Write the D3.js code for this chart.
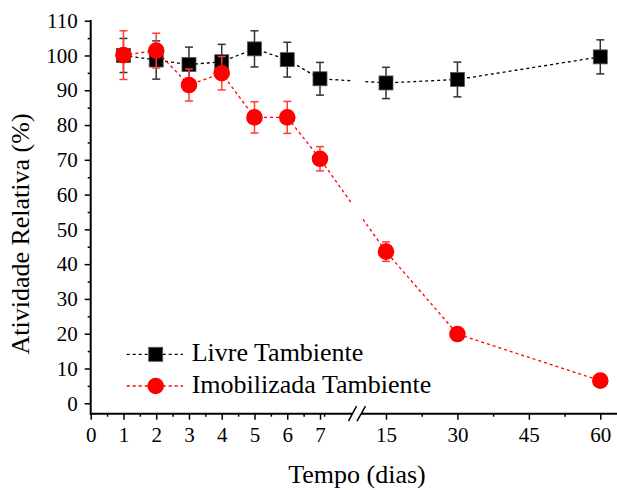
<!DOCTYPE html>
<html>
<head>
<meta charset="utf-8">
<script src="https://cdn.jsdelivr.net/npm/d3@7"></script>
<style>
  html, body { margin: 0; padding: 0; background: #fff; }
  svg { display: block; }
  text { font-family: "Liberation Serif", "Times New Roman", serif; fill: #000; }
</style>
</head>
<body>
<svg id="chart" width="617" height="490"></svg>
<script>
// ---- Data ----
const days = [1, 2, 3, 4, 5, 6, 7, 15, 30, 60];
const livre = [100.0, 98.7, 97.4, 98.2, 101.9, 98.8, 93.3, 92.1, 93.1, 99.6];
const livreErr = [4.9, 5.5, 5.0, 5.0, 5.2, 5.0, 4.7, 4.5, 5.0, 4.9];
const imob = [100.1, 101.4, 91.5, 94.9, 82.2, 82.2, 70.3, 43.6, 19.9, 6.5];
const imobErr = [7.0, 5.0, 4.6, 4.8, 4.5, 4.6, 3.5, 2.8, 0, 0];
const xTicksMajor1 = [0, 1, 2, 3, 4, 5, 6, 7];
const xTicksMajor2 = [15, 30, 45, 60];
const xTicksMinor = [0.5, 1.5, 2.5, 3.5, 4.5, 5.5, 6.5, 7.5, 22.5, 37.5, 52.5];
const yTicksMajor = [0, 10, 20, 30, 40, 50, 60, 70, 80, 90, 100, 110];
const yTicksMinor = [5, 15, 25, 35, 45, 55, 65, 75, 85, 95, 105];
const seriesNames = ["Livre Tambiente", "Imobilizada Tambiente"];

// ---- Scales ----
const x = d3.scaleLinear().domain([0, 7, 15, 63.3]).range([90.7, 320, 386, 616]);
const y = d3.scaleLinear().domain([-3, 110]).range([413.7, 20.7]);
const xBreak = [351, 363];

const svg = d3.select("#chart");

// clip for break gap
const defs = svg.append("defs");
const cp = defs.append("clipPath").attr("id", "gapclip");
cp.append("rect").attr("x", 0).attr("y", 0).attr("width", xBreak[0]).attr("height", 490);
cp.append("rect").attr("x", xBreak[1]).attr("y", 0).attr("width", 617 - xBreak[1]).attr("height", 490);

// ---- Axes ----
const fontTick = 21;
const xAxisMajor = d3.axisBottom(x).tickValues(xTicksMajor1.concat(xTicksMajor2))
  .tickSize(6).tickPadding(7.5).tickFormat(d3.format("d"));
const gx = svg.append("g").attr("transform", `translate(0,${y(-3)})`).call(xAxisMajor);
gx.select(".domain").remove();
gx.selectAll("line").attr("stroke", "#000").attr("stroke-width", 1.5);
gx.selectAll("text").style("font-size", fontTick + "px").style("font-family", "Liberation Serif");

const xAxisMinor = d3.axisBottom(x).tickValues(xTicksMinor).tickSize(3).tickFormat("");
const gxm = svg.append("g").attr("transform", `translate(0,${y(-3)})`).call(xAxisMinor);
gxm.select(".domain").remove();
gxm.selectAll("line").attr("stroke", "#000").attr("stroke-width", 1.5);

// x axis baseline with break
svg.append("line").attr("x1", x(0) - 0.75).attr("x2", 352).attr("y1", y(-3)).attr("y2", y(-3))
  .attr("stroke", "#000").attr("stroke-width", 2);
svg.append("line").attr("x1", 361).attr("x2", 617).attr("y1", y(-3)).attr("y2", y(-3))
  .attr("stroke", "#000").attr("stroke-width", 2);
// break slashes
[[348.5, 356.5], [357, 365.5]].forEach(s => {
  svg.append("line").attr("x1", s[0]).attr("y1", y(-3) + 7.5).attr("x2", s[1]).attr("y2", y(-3) - 7.5)
    .attr("stroke", "#000").attr("stroke-width", 1.5);
});

const yAxisMajor = d3.axisLeft(y).tickValues(yTicksMajor).tickSize(6).tickPadding(7).tickFormat(d3.format("d"));
const gy = svg.append("g").attr("transform", `translate(${x(0)},0)`).call(yAxisMajor);
gy.select(".domain").remove();
gy.selectAll("line").attr("stroke", "#000").attr("stroke-width", 1.5);
gy.selectAll("text").style("font-size", fontTick + "px").style("font-family", "Liberation Serif");
const yAxisMinor = d3.axisLeft(y).tickValues(yTicksMinor).tickSize(3).tickFormat("");
const gym = svg.append("g").attr("transform", `translate(${x(0)},0)`).call(yAxisMinor);
gym.select(".domain").remove();
gym.selectAll("line").attr("stroke", "#000").attr("stroke-width", 1.5);
svg.append("line").attr("x1", x(0)).attr("x2", x(0)).attr("y1", y(-3) + 1).attr("y2", y(110) - 0.75)
  .attr("stroke", "#000").attr("stroke-width", 2);

// ---- Titles ----
svg.append("text").attr("x", 357).attr("y", 483).attr("text-anchor", "middle")
  .style("font-size", "26px").text("Tempo (dias)");
svg.append("text").attr("transform", "translate(29,234) rotate(-90)").attr("text-anchor", "middle")
  .style("font-size", "26px").text("Atividade Relativa (%)");

// ---- Series ----
const line = d3.line().x((d, i) => x(days[i])).y(d => y(d));

function drawSeries(vals, errs, color, errColor, shape, dash) {
  svg.append("path").datum(vals).attr("d", line).attr("fill", "none")
    .attr("stroke", color).attr("stroke-width", 1.3).attr("stroke-dasharray", dash)
    .attr("clip-path", "url(#gapclip)");
  const g = svg.append("g");
  vals.forEach((v, i) => {
    const e = errs[i];
    if (e > 0) {
      const cx = x(days[i]);
      g.append("line").attr("x1", cx).attr("x2", cx).attr("y1", y(v - e)).attr("y2", y(v + e))
        .attr("stroke", errColor).attr("stroke-width", 1.5);
      [v - e, v + e].forEach(t => {
        g.append("line").attr("x1", cx - 4).attr("x2", cx + 4).attr("y1", y(t)).attr("y2", y(t))
          .attr("stroke", errColor).attr("stroke-width", 1.5);
      });
    }
  });
  vals.forEach((v, i) => {
    const cx = x(days[i]), cy = y(v);
    if (shape === "square") {
      g.append("rect").attr("x", cx - 7).attr("y", cy - 7).attr("width", 14).attr("height", 14)
        .attr("fill", color).attr("stroke", "#555").attr("stroke-width", 0.8);
    } else {
      g.append("circle").attr("cx", cx).attr("cy", cy).attr("r", 8.3).attr("fill", color);
    }
  });
}

drawSeries(livre, livreErr, "#000", "#333", "square", "3,3");
drawSeries(imob, imobErr, "#ff0000", "#ff3b3b", "circle", "3,3");

// ---- Legend ----
const leg = svg.append("g");
const rows = [{ y: 354.3, color: "#000", shape: "square" }, { y: 386, color: "#ff0000", shape: "circle" }];
rows.forEach((r, i) => {
  leg.append("line").attr("x1", 126.7).attr("x2", 183).attr("y1", r.y).attr("y2", r.y)
    .attr("stroke", r.color).attr("stroke-width", 1.3).attr("stroke-dasharray", "3,3");
  if (r.shape === "square") {
    leg.append("rect").attr("x", 155.7 - 7).attr("y", r.y - 7).attr("width", 14).attr("height", 14)
      .attr("fill", r.color).attr("stroke", "#555").attr("stroke-width", 0.8);
  } else {
    leg.append("circle").attr("cx", 155.7).attr("cy", r.y).attr("r", 8.3).attr("fill", r.color);
  }
  leg.append("text").attr("x", 191.7).attr("y", r.y + 7).style("font-size", "26px").text(seriesNames[i]);
});
</script>
</body>
</html>
